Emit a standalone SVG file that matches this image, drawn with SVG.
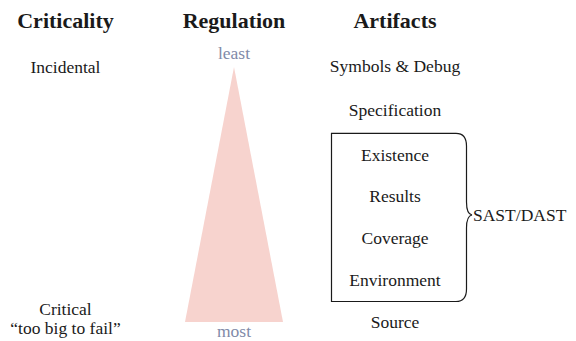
<svg xmlns="http://www.w3.org/2000/svg" width="576" height="341" viewBox="0 0 576 341">
<style>
text{fill:#1a1a1a;text-anchor:middle;font-size:17.5px}
.h{font-weight:bold;font-size:22px}
.g{fill:#7f8aa8}
.l{text-anchor:start}
</style>
<rect width="576" height="341" fill="#fff"/>
<g font-family="Liberation Serif, Times New Roman, serif">
<g id="headers">
<text class="h" x="65.5" y="28">Criticality</text>
<text class="h" x="234" y="28">Regulation</text>
<text class="h" x="395" y="28">Artifacts</text>
</g>
<g id="regulation">
<polygon points="234,67 283,322 185,322" fill="#f7d3ce"/>
<text class="g" x="234" y="59">least</text>
<text class="g" x="234" y="337">most</text>
</g>
<g id="criticality">
<text x="65.5" y="73">Incidental</text>
<text x="65.5" y="315">Critical</text>
<text x="65.5" y="334">“too big to fail”</text>
</g>
<g id="artifacts">
<text x="395" y="72">Symbols &amp; Debug</text>
<text x="395" y="116">Specification</text>
<text x="395" y="161">Existence</text>
<text x="395" y="202">Results</text>
<text x="395" y="244">Coverage</text>
<text x="395" y="286">Environment</text>
<text x="395" y="328">Source</text>
</g>
<g id="connectors">
<path d="M456,133.3 H331.5 V301.5 H456 Q466.5,301.5 466.5,289 V228 Q466.5,216 472,215 Q466.5,214 466.5,202 V146 Q466.5,133.3 456,133.3 Z" fill="none" stroke="#1a1a1a" stroke-width="1.2"/>
</g>
<g id="sast">
<text class="l" x="473" y="221">SAST/DAST</text>
</g>
</g>
</svg>
